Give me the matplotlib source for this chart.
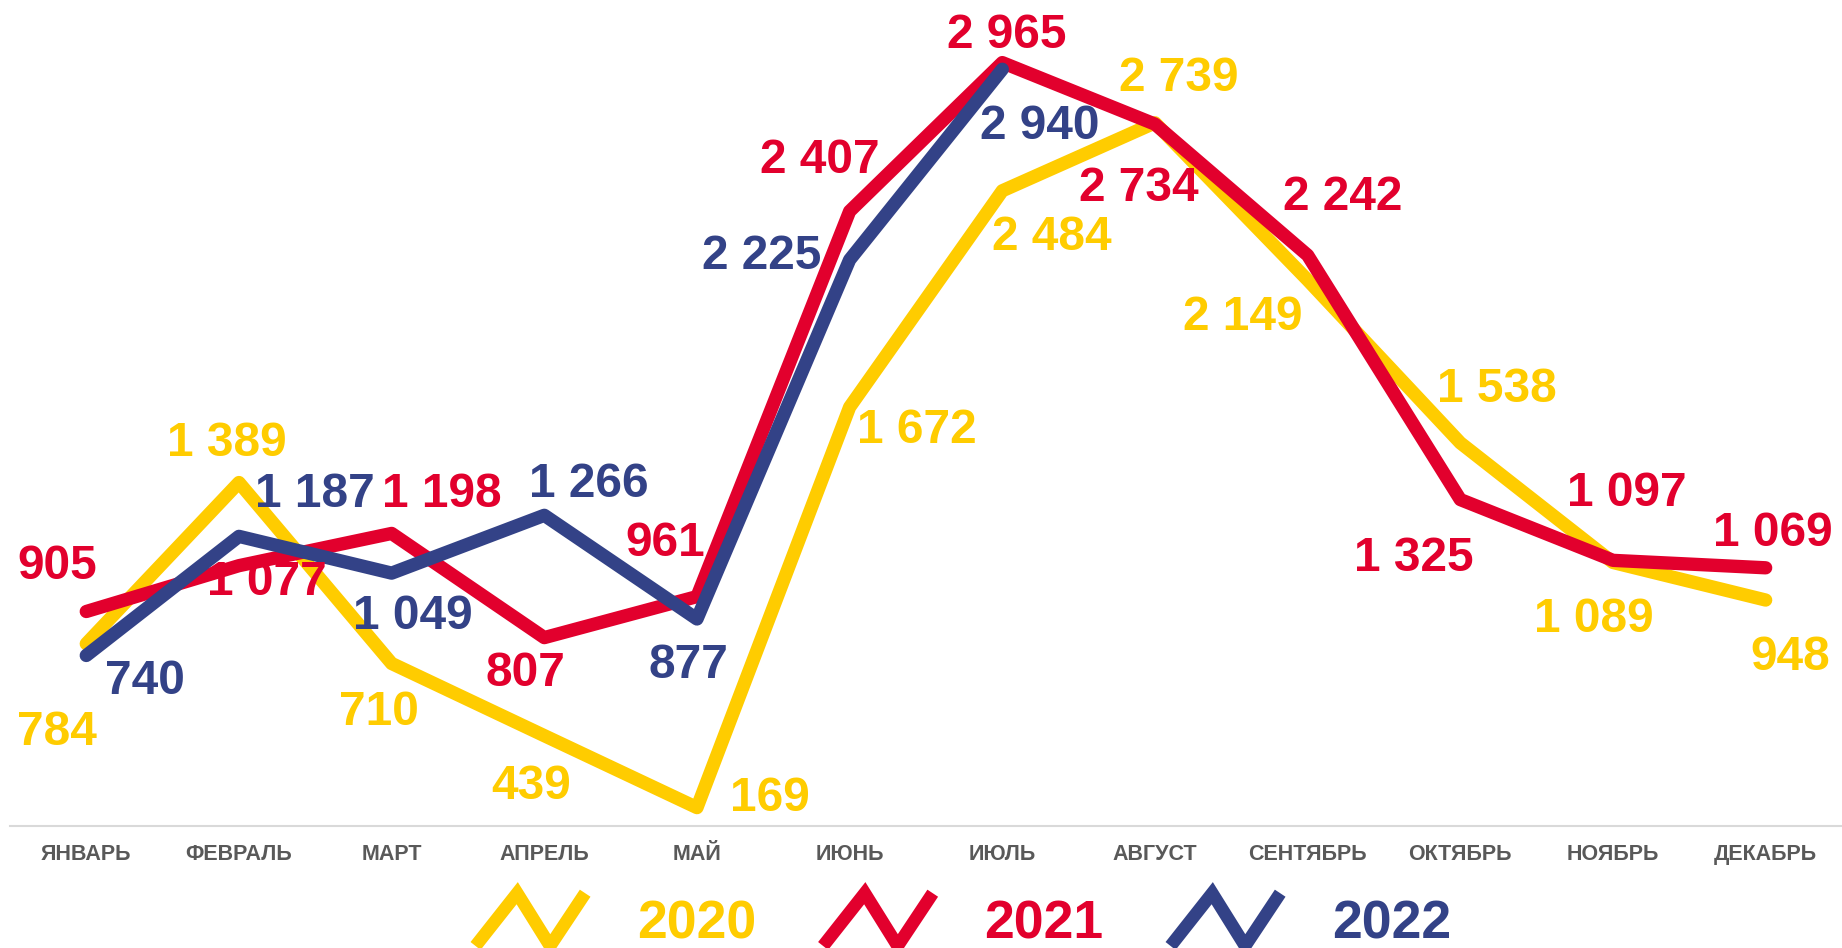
import numpy as np
import matplotlib.pyplot as plt
from matplotlib.lines import Line2D
from matplotlib.legend_handler import HandlerBase

plt.rcParams['font.family'] = ['Liberation Sans', 'DejaVu Sans']

months = ['ЯНВАРЬ', 'ФЕВРАЛЬ', 'МАРТ', 'АПРЕЛЬ', 'МАЙ', 'ИЮНЬ', 'ИЮЛЬ',
          'АВГУСТ', 'СЕНТЯБРЬ', 'ОКТЯБРЬ', 'НОЯБРЬ', 'ДЕКАБРЬ']
v2020 = [784, 1389, 710, 439, 169, 1672, 2484, 2739, 2149, 1538, 1089, 948]
v2021 = [905, 1077, 1198, 807, 961, 2407, 2965, 2734, 2242, 1325, 1097, 1069]
v2022 = [740, 1187, 1049, 1266, 877, 2225, 2940]
years = ['2020', '2021', '2022']

# label offsets (screen px, +y is down), tuned by eye
off20 = [(-25, 72), (-10, -37), (-11, 38), (-11, 39), (62, -12), (57, 16),
         (42, 36), (20, -42), (-55, 28), (31, -49), (-16, 45), (21, 45)]
off21 = [(-25, -42), (24, 10), (43, -37), (-16, 27), (-27, -49), (-25, -47),
         (4, -27), (-14, 51), (30, -53), (-40, 46), (12, -61), (6, -33)]
off22 = [(50, 18), (65, -40), (18, 33), (38, -30), (-7, 36), (-75, -7), (32, 45)]

colors = ['#FFCC00', '#E2002D', '#334287']
series = [v2020, v2021, v2022]
offsets = [off20, off21, off22]

fig = plt.figure(figsize=(18.42, 9.48), dpi=100)
ax = fig.add_axes([0.0054, 0.1287, 0.9946, 0.8713])

k = 0.8458
fs = 34.5
cap = 0.716 * fs
for vals, col, offs in zip(series, colors, offsets):
    x = np.arange(len(vals))
    ax.plot(x, vals, color=col, lw=9.6, solid_capstyle='round',
            solid_joinstyle='round')
    for xi, v, (dx, dy) in zip(x, vals, offs):
        ax.annotate(f'{v:,}'.replace(',', ' '), (xi, v),
                    xytext=(dx * k, -dy * k - cap / 2), textcoords='offset points',
                    ha='center', va='baseline', fontsize=fs, fontweight='bold',
                    color=col, annotation_clip=False)

ax.set_xlim(-0.5, 11.5)
ax.set_ylim(100, 3200)
ax.set_xticks(range(12))
ax.set_xticklabels(months, fontsize=15.5, fontweight='bold', color='#595959')
ax.tick_params(axis='x', length=0, pad=13)
ax.set_yticks([])
for s in ['top', 'left', 'right']:
    ax.spines[s].set_visible(False)
ax.spines['bottom'].set_color('#D9D9D9')
ax.spines['bottom'].set_linewidth(1.5)


class ZigHandler(HandlerBase):
    def create_artists(self, legend, orig_handle, xdescent, ydescent, width,
                       height, fontsize, trans):
        xs = -xdescent + width * np.array([0.0, 0.38, 0.68, 1.0])
        yc = -ydescent + height / 2
        h = 19
        ys = np.array([yc - h, yc + h, yc - h, yc + h])
        ln = Line2D(xs, ys, color=orig_handle.get_color(), lw=9.2,
                    solid_joinstyle='miter', solid_capstyle='butt')
        ln.set_transform(trans)
        return [ln]


handles = [Line2D([], [], color=c) for c in colors]
leg = fig.legend(handles, years, loc='center', bbox_to_anchor=(0.523, 0.025),
                 ncol=3, frameon=False, handler_map={Line2D: ZigHandler()},
                 handlelength=2.05, handletextpad=0.97, columnspacing=1.25,
                 borderpad=0, prop={'size': 38.5, 'weight': 'bold'},
                 labelcolor=colors)

fig.savefig('out.png', dpi=100)
